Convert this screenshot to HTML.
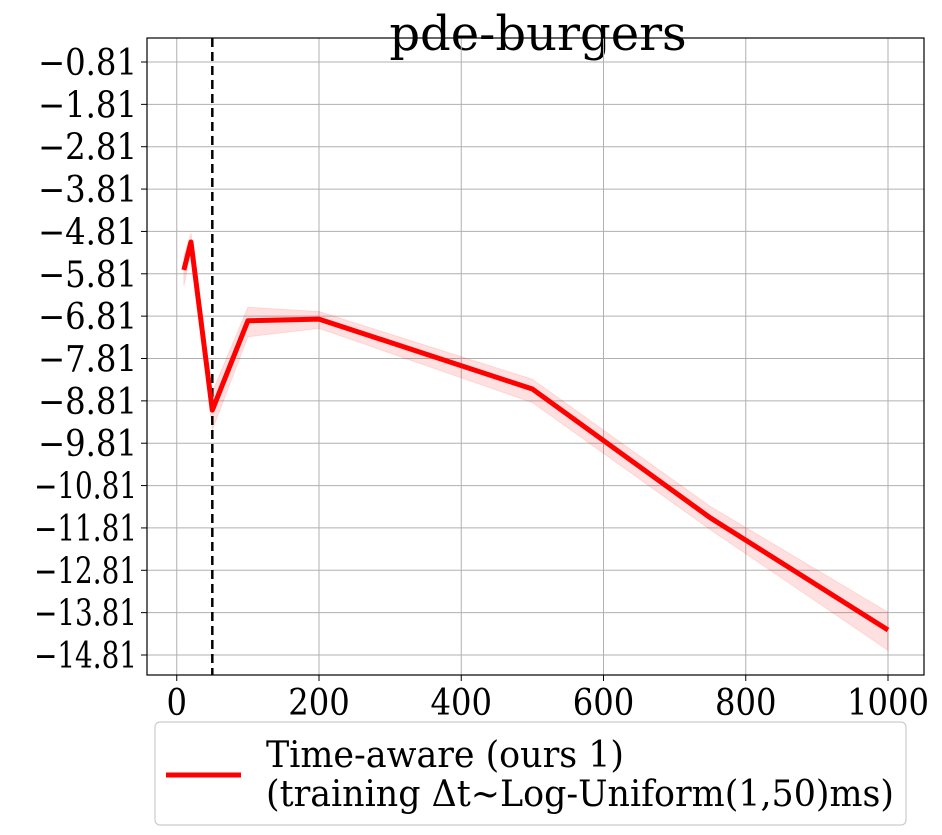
<!DOCTYPE html>
<html><head><meta charset="utf-8"><style>
html,body{margin:0;padding:0;background:#fff;}
svg{display:block;font-family:"DejaVu Serif","Liberation Serif",serif;}
</style></head><body>
<svg id="chart" width="942" height="835" viewBox="0 0 942 835">
<text x="538" y="50" font-size="48" text-anchor="middle">pde-burgers</text>
<g id="grid"></g>
<g id="band"></g>
<g id="lines"></g>
<g id="axes"></g>
<g>
<rect x="155" y="722" width="751" height="103" rx="5" fill="#fff" stroke="#ccc" stroke-width="1.2"/>
<line x1="166" y1="775" x2="241" y2="775" stroke="#ff0000" stroke-width="5"/>
<text x="266" y="767" font-size="36" textLength="358" lengthAdjust="spacingAndGlyphs">Time-aware (ours 1)</text>
<text x="266" y="806" font-size="36" textLength="628" lengthAdjust="spacingAndGlyphs">(training Δt~Log-Uniform(1,50)ms)</text>
</g>
</svg>
<script>
const xs=[10,20,50,100,200,500,750,1000];
const ys=[-5.72,-5.06,-9.03,-6.92,-6.88,-8.53,-11.57,-14.22];
const upper=[-5.4,-4.85,-8.6,-6.6,-6.7,-8.3,-11.3,-13.8];
const lower=[-6.1,-5.25,-9.5,-7.3,-7.1,-8.85,-11.85,-14.7];
const xTicks=[0,200,400,600,800,1000];
const yTicks=[-0.81,-1.81,-2.81,-3.81,-4.81,-5.81,-6.81,-7.81,-8.81,-9.81,-10.81,-11.81,-12.81,-13.81,-14.81];
const vline=50;
const L=147,R=924,T=38,B=675;
const X=v=>176.75+v*(888-176.75)/1000;
const Y=v=>62+(-0.81-v)*(655-62)/14;
const NS="http://www.w3.org/2000/svg";
function mk(tag,attrs,parent){const e=document.createElementNS(NS,tag);for(const k in attrs)e.setAttribute(k,attrs[k]);parent.appendChild(e);return e;}
const grid=document.getElementById('grid'),axes=document.getElementById('axes');
xTicks.forEach(t=>{
 const g=mk('line',{x1:X(t),x2:X(t),y1:T,y2:B,stroke:'#b0b0b0','stroke-width':1},grid);
 
 
 mk('line',{x1:X(t),x2:X(t),y1:B,y2:B+6,stroke:'#000','stroke-width':1},axes);
 const s=String(t);
 const tx=mk('text',{x:X(t),y:B+40,'font-size':36,'text-anchor':'middle',textLength:s.length*20.5,lengthAdjust:'spacingAndGlyphs'},axes);
 tx.textContent=s;
 
 
});
yTicks.forEach(t=>{
 const g=mk('line',{x1:L,x2:R,y1:Y(t),y2:Y(t),stroke:'#b0b0b0','stroke-width':1},grid);
 
 
 mk('line',{x1:L-6,x2:L,y1:Y(t),y2:Y(t),stroke:'#000','stroke-width':1},axes);
 const s='\u2212'+Math.abs(t).toFixed(2);
 const tx=mk('text',{x:L-10,y:Y(t)+13,'font-size':36,'text-anchor':'end',textLength:Math.abs(t)>=10?103:99,lengthAdjust:'spacingAndGlyphs'},axes);
 tx.textContent=s;
 
 
});
const fr=mk('rect',{x:L,y:T,width:R-L,height:B-T,fill:'none',stroke:'#000','stroke-width':1.2},axes);


let d='M'+xs.map((x,i)=>X(x)+','+Y(upper[i])).join('L');
for(let i=xs.length-1;i>=0;i--)d+='L'+X(xs[i])+','+Y(lower[i]);
const band=mk('path',{d:d+'Z',fill:'#ff0000','fill-opacity':0.12,stroke:'#ff0000','stroke-opacity':0.1},document.getElementById('band'));


const lines=document.getElementById('lines');
const vl=mk('line',{x1:X(vline),x2:X(vline),y1:T,y2:B,stroke:'#000','stroke-width':2.5,'stroke-dasharray':'9,5'},lines);


const pl=mk('polyline',{points:xs.map((x,i)=>X(x)+','+Y(ys[i])).join(' '),fill:'none',stroke:'#ff0000','stroke-width':5,'stroke-linejoin':'round'},lines);


</script>
</body></html>
